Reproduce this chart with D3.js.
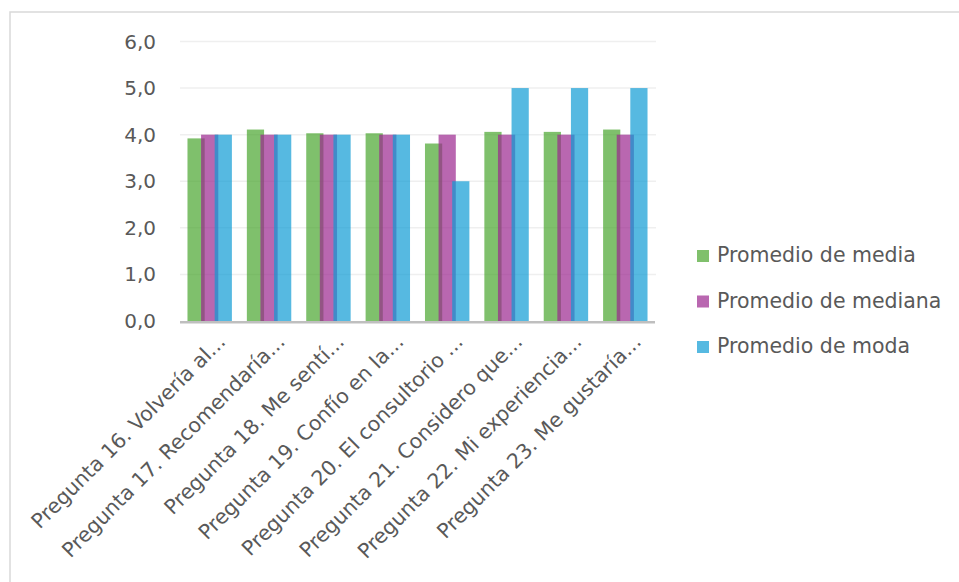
<!DOCTYPE html>
<html>
<head>
<meta charset="utf-8">
<script src="https://cdn.jsdelivr.net/npm/d3@7/dist/d3.min.js"></script>
<style>
  html, body { margin: 0; padding: 0; background: #fff; }
  svg { display: block; }
  text { font-family: "DejaVu Sans", sans-serif; fill: #595959; }
</style>
</head>
<body>
<svg id="chart" width="959" height="582"></svg>
<script>
// Survey questions (truncated labels) and the three summary statistics
const categories = [
  "Pregunta 16. Volvería al...",
  "Pregunta 17. Recomendaría...",
  "Pregunta 18. Me sentí...",
  "Pregunta 19. Confío en la...",
  "Pregunta 20. El consultorio ...",
  "Pregunta 21. Considero  que...",
  "Pregunta 22. Mi experiencia...",
  "Pregunta 23. Me gustaría..."
];
const media   = [3.92, 4.11, 4.03, 4.03, 3.81, 4.06, 4.06, 4.11];
const mediana = [4, 4, 4, 4, 4, 4, 4, 4];
const moda    = [4, 4, 4, 4, 3, 5, 5, 5];
const seriesNames = ["Promedio de media", "Promedio de mediana", "Promedio de moda"];
const yTicks = [0, 1, 2, 3, 4, 5, 6];

const seriesValues = [media, mediana, moda];
const colors = ["#48a52d", "#9b268e", "#0e9bd4"];
const swatch = ["#80c06c", "#b967b0", "#56b9e1"];

const svg = d3.select("#chart");
const fmt = v => d3.format(".1f")(v).replace(".", ",");

// Outer chart frame
svg.append("rect")
  .attr("x", 10).attr("y", 12)
  .attr("width", 1000).attr("height", 600)
  .attr("fill", "none").attr("stroke", "#d9d9d9").attr("stroke-width", 1.5);

const plot = { left: 180, right: 655, top: 41.5, bottom: 321 };

const x = d3.scaleBand().domain(categories).range([plot.left, plot.right]).padding(0);
const y = d3.scaleLinear().domain([0, 6]).range([plot.bottom, plot.top]);

// Horizontal gridlines
svg.append("g").selectAll("line").data(yTicks.filter(t => t > 0)).join("line")
  .attr("x1", plot.left).attr("x2", plot.right + 1)
  .attr("y1", d => y(d)).attr("y2", d => y(d))
  .attr("stroke", "#efefef").attr("stroke-width", 1.5);

// Y tick labels
svg.append("g").selectAll("text").data(yTicks).join("text")
  .attr("x", 156).attr("y", d => y(d))
  .attr("text-anchor", "end").attr("dominant-baseline", "central")
  .attr("font-size", 20)
  .text(d => fmt(d));

// Clustered, slightly overlapping bars
const bw = x.bandwidth();
const barW = bw * 0.29;
const step = bw * 0.229;
const groupW = step * 2 + barW;

seriesValues.forEach((vals, si) => {
  svg.append("g").selectAll("rect").data(vals).join("rect")
    .attr("x", (d, i) => x(categories[i]) + (bw - groupW) / 2 + si * step)
    .attr("y", d => y(d))
    .attr("width", barW)
    .attr("height", d => y(0) - y(d))
    .attr("fill", colors[si])
    .attr("fill-opacity", 0.7);
});

// X axis baseline
svg.append("line")
  .attr("x1", plot.left).attr("x2", plot.right)
  .attr("y1", y(0) + 1.2).attr("y2", y(0) + 1.2)
  .attr("stroke", "#bfbfbf").attr("stroke-width", 2.5);

// Rotated category labels
svg.append("g").selectAll("text").data(categories).join("text")
  .attr("text-anchor", "end")
  .attr("font-size", 20.5)
  .attr("transform", d => `translate(${x(d) + bw / 2 + 17},${343}) rotate(-45)`)
  .text(d => d);

// Legend
const legend = svg.append("g").selectAll("g").data(seriesNames).join("g")
  .attr("transform", (d, i) => `translate(697,${250 + i * 45.5})`);
legend.append("rect")
  .attr("width", 12).attr("height", 12)
  .attr("fill", (d, i) => swatch[i]);
legend.append("text")
  .attr("x", 20).attr("y", 12)
  .attr("font-size", 20.5)
  .text(d => d);
</script>
</body>
</html>
